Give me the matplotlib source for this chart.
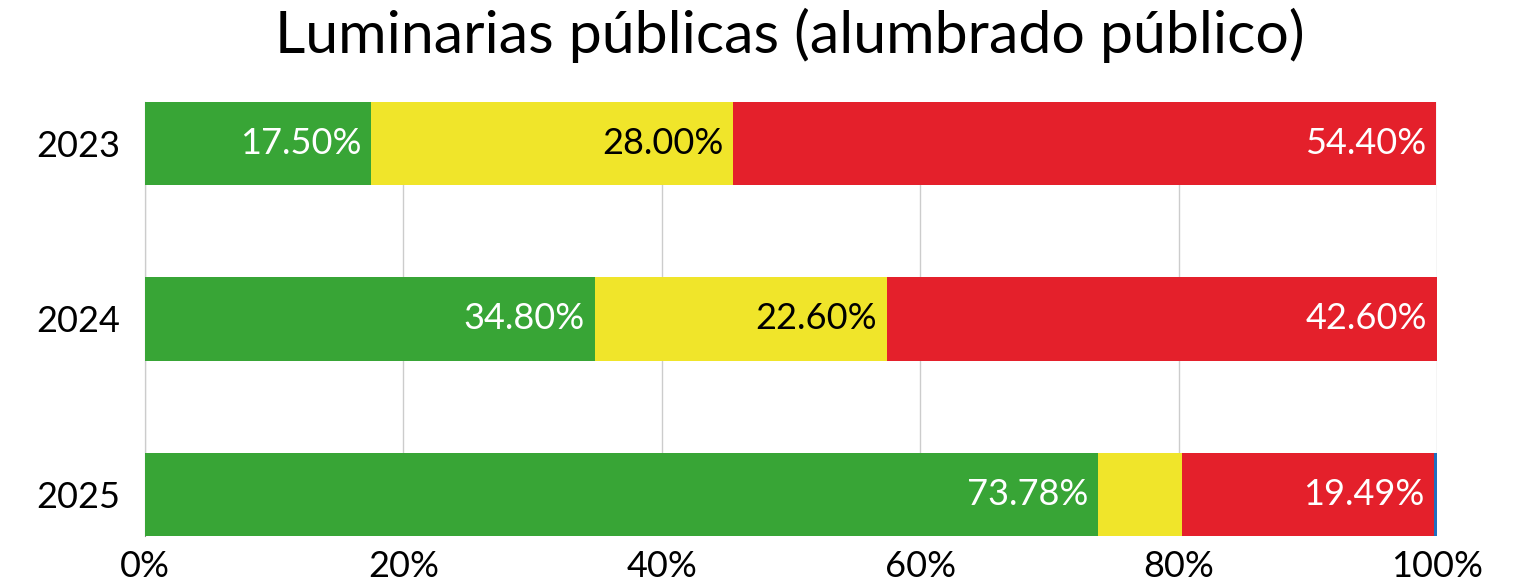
import numpy as np
import matplotlib.pyplot as plt

plt.rcParams['font.family'] = ['Lato', 'DejaVu Sans']

years = ['2023', '2024', '2025']
bueno = [17.50, 34.80, 73.78]
regular = [28.00, 22.60, 6.50]
malo = [54.40, 42.60, 19.49]
otro = [0.00, 0.00, 0.23]

colors = ['#38a536', '#f0e52a', '#e4202b', '#1f6fbf']
text_colors = ['white', 'black', 'white', None]
series = [bueno, regular, malo, otro]

fig = plt.figure(figsize=(15.22, 5.86), dpi=100)
ax = fig.add_axes([145/1522, 1-536/586, 1292/1522, 434/586])

y = np.arange(len(years))
h = 0.475
left = np.zeros(len(years))
for vals, c, tc in zip(series, colors, text_colors):
    vals = np.array(vals)
    ax.barh(y, vals, left=left, height=h, color=c, zorder=3)
    if tc:
        for yi, l, v in zip(y, left, vals):
            if v >= 10:
                ax.text(l + v - 0.75, yi, f'{v:.2f}%', ha='right', va='center',
                        color=tc, fontsize=26, zorder=4)
    left += vals

ax.set_xlim(0, 100)
ax.set_ylim(2 + h/2, -h/2)
ax.set_yticks(y)
ax.set_yticklabels(years, fontsize=26)
ax.set_xticks(np.arange(0, 101, 20))
ax.set_xticklabels([f'{v}%' for v in range(0, 101, 20)], fontsize=26)
ax.tick_params(length=0)
ax.tick_params(axis='y', pad=18)
ax.tick_params(axis='x', pad=10)
ax.grid(axis='x', color='#cccccc', lw=1, zorder=0)
for s in ['top', 'right', 'bottom']:
    ax.spines[s].set_visible(False)
ax.spines['left'].set_color('#888888')
ax.spines['left'].set_zorder(1)

fig.text(790/1522, 0.94, 'Luminarias públicas (alumbrado público)', ha='center', va='center', fontsize=42.5)

fig.savefig('out.png', dpi=100)
